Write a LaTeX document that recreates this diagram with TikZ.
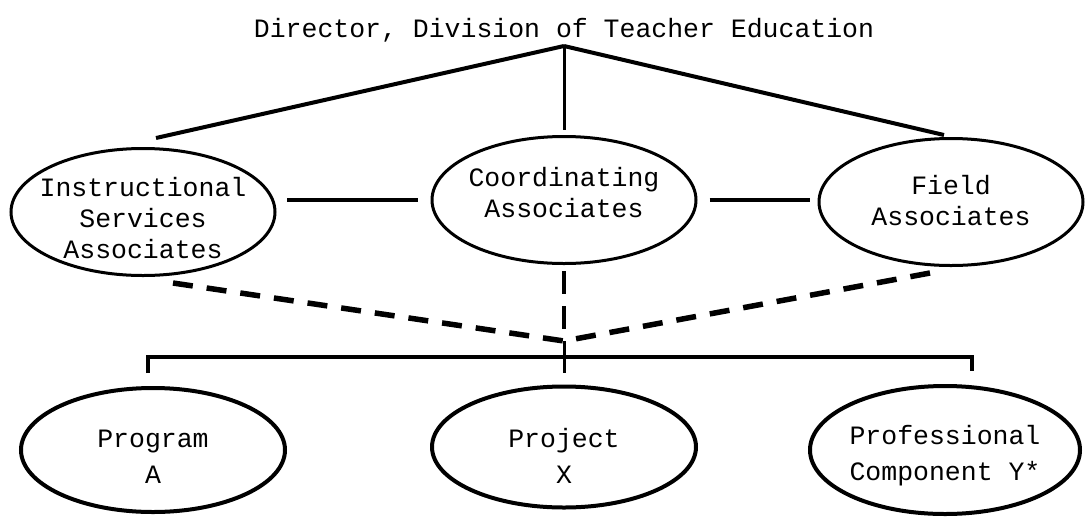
\documentclass[tikz,border=0pt]{standalone}
\usepackage{fontspec}
\setmonofont{Liberation Mono}
\usetikzlibrary{shapes.geometric}

\begin{document}
\begin{tikzpicture}[x=1pt,y=-1pt,
  unit/.style={draw, ellipse, line width=3pt, inner sep=0pt, minimum width=264pt, minimum height=127pt},
  lowunit/.style={unit, line width=4pt, minimum height=124pt},
  lbl/.style={align=center, inner sep=0pt, font=\ttfamily\fontsize{26.5}{31}\selectfont},
  lowlbl/.style={lbl, font=\ttfamily\fontsize{26.5}{36}\selectfont},
  link/.style={line width=4pt},
  dashlink/.style={line width=5.5pt, dash pattern=on 20pt off 14pt}]
  \useasboundingbox (0,0) rectangle (1085,523);
  % head of the division
  \node[lbl] (dir) at (564,30) {Director, Division of Teacher Education};
  \coordinate (apex) at (564,46);
  % associates
  \node[unit] (isa) at (143,212) {};
  \node[unit] (ca) at (564,200) {};
  \node[unit] (fa) at (951,202) {};
  \node[lbl] (isa text) at (143,218) {Instructional\\Services\\Associates};
  \node[lbl] (ca text) at (564,193) {Coordinating\\Associates};
  \node[lbl] (fa text) at (951,201) {Field\\Associates};
  \coordinate (isa top) at (156,138);
  \coordinate (fa top) at (944,135);
  \draw[link] (apex) -- (isa top);
  \draw[link] (apex) -- (fa top);
  \draw[link, line width=3pt, shorten >=5pt] (apex) -- (ca.north);
  \draw[link] ([xshift=-13pt]ca.west) -- ([xshift=10pt]ca.west -| isa.east);
  \draw[link] ([xshift=12pt]ca.east) -- ([xshift=-8pt]ca.east -| fa.west);
  % dashed ties and the bracket
  \coordinate (hub) at (ca.south |- 0,357);
  \coordinate (join) at (ca.south |- 0,341);
  \coordinate (isa foot) at (173,283);
  \coordinate (fa foot) at (930,273);
  \draw[dashlink] (isa foot) -- (join);
  \draw[dashlink] (fa foot) -- (join);
  \draw[link, dash pattern=on 23pt off 12pt] ([yshift=-6pt]ca.south) -- (join);
  \draw[link, line width=3pt] (join) -- ([yshift=-16pt]hub);
  \coordinate (bl) at (148,357);
  \coordinate (br) at (972,357);
  \draw[link] ([yshift=-16pt]bl) -- (bl) -- (br) -- ([yshift=-14pt]br);
  % units
  \node[lowunit] (pa) at (153,450) {};
  \node[lowunit, minimum height=121pt] (px) at (564,447) {};
  \node[lowunit, minimum width=270pt, minimum height=128pt] (pc) at (945,450) {};
  \node[lowlbl] (pa text) at (153,457) {Program\\A};
  \node[lowlbl] (px text) at (564,456) {Project\\X};
  \node[lowlbl] (pc text) at (945,456) {Professional\\Component Y*};
\end{tikzpicture}
\end{document}
